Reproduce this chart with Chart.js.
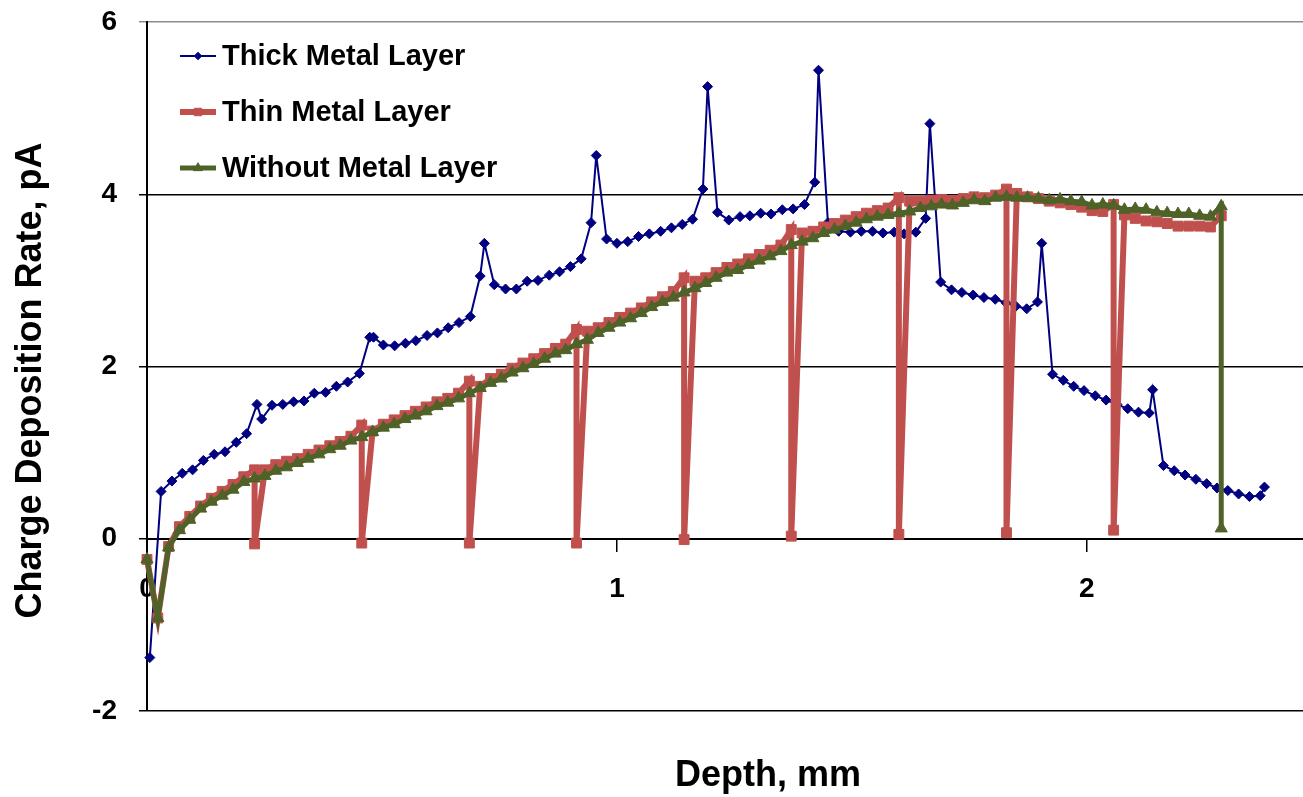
<!DOCTYPE html>
<html>
<head>
<meta charset="utf-8">
<title>Charge Deposition Rate vs Depth</title>
<script src="https://cdn.jsdelivr.net/npm/chart.js@4.4.1/dist/chart.umd.min.js"></script>
<style>
  html, body { margin: 0; padding: 0; background: #fff; }
  #wrap { width: 1303px; height: 797px; }
</style>
</head>
<body>
<div id="wrap"><canvas id="chart"></canvas></div>
<script>
// Thick metal layer: own depth points (extra point at every peak)
const thickDepth = [0.006,0.030,0.053,0.075,0.097,0.120,0.143,0.166,0.190,0.212,0.234,0.244,0.266,0.289,0.312,0.334,0.356,0.380,0.403,0.427,
  0.452,0.474,0.482,0.503,0.527,0.550,0.572,0.596,0.618,0.641,0.664,0.688,0.709,0.718,0.739,0.763,0.786,0.809,0.832,0.856,
  0.878,0.901,0.924,0.945,0.956,0.978,1.000,1.023,1.046,1.069,1.093,1.116,1.139,1.161,1.183,1.193,1.214,1.238,1.262,1.283,
  1.306,1.328,1.352,1.375,1.399,1.421,1.429,1.449,1.472,1.497,1.520,1.544,1.566,1.590,1.611,1.636,1.657,1.666,1.689,1.712,
  1.734,1.758,1.781,1.805,1.828,1.849,1.872,1.895,1.904,1.927,1.950,1.972,1.994,2.018,2.041,2.064,2.087,2.110,2.133,2.140,
  2.163,2.186,2.209,2.232,2.255,2.277,2.300,2.323,2.346,2.369,2.378];
const thickRate = [-1.38,0.55,0.67,0.76,0.80,0.91,0.98,1.01,1.12,1.22,1.56,1.39,1.55,1.56,1.59,1.60,1.69,1.70,1.77,1.82,
  1.92,2.34,2.34,2.25,2.24,2.27,2.30,2.36,2.39,2.45,2.51,2.58,3.05,3.43,2.95,2.90,2.90,2.99,3.00,3.06,
  3.10,3.16,3.25,3.67,4.45,3.48,3.43,3.45,3.51,3.54,3.57,3.61,3.65,3.71,4.06,5.25,3.79,3.70,3.74,3.75,
  3.78,3.77,3.82,3.83,3.88,4.14,5.44,3.67,3.57,3.56,3.57,3.57,3.55,3.56,3.54,3.56,3.72,4.82,2.98,2.89,
  2.86,2.83,2.80,2.78,2.74,2.70,2.67,2.75,3.43,1.91,1.84,1.77,1.72,1.66,1.61,1.56,1.51,1.47,1.46,1.73,
  0.85,0.79,0.74,0.69,0.64,0.59,0.56,0.52,0.49,0.50,0.60];

// Thin / without metal layer share one depth grid
const depthGrid = [0,0.023,0.046,0.069,0.091,0.114,0.137,0.160,0.183,0.206,
  0.229,0.251,0.274,0.297,0.320,0.343,0.366,0.389,0.411,0.434,
  0.457,0.480,0.503,0.526,0.549,0.571,0.594,0.617,0.640,0.663,
  0.686,0.709,0.731,0.754,0.777,0.800,0.823,0.846,0.869,0.891,
  0.914,0.937,0.960,0.983,1.006,1.029,1.052,1.074,1.097,1.120,
  1.143,1.166,1.189,1.211,1.234,1.257,1.280,1.303,1.326,1.349,
  1.371,1.394,1.417,1.440,1.463,1.486,1.509,1.531,1.554,1.577,
  1.600,1.623,1.646,1.669,1.691,1.714,1.737,1.760,1.783,1.806,
  1.829,1.851,1.874,1.897,1.920,1.943,1.966,1.989,2.011,2.034,
  2.057,2.080,2.103,2.126,2.149,2.171,2.194,2.217,2.240,2.263,
  2.286];
const thinRate = [-0.24,-0.92,-0.09,0.14,0.26,0.38,0.47,0.55,0.63,0.72,
  0.80,0.80,0.86,0.90,0.93,0.98,1.03,1.08,1.13,1.19,
  1.32,1.25,1.33,1.38,1.43,1.48,1.53,1.59,1.63,1.69,
  1.83,1.77,1.86,1.91,1.98,2.04,2.09,2.15,2.21,2.26,
  2.43,2.41,2.45,2.51,2.57,2.62,2.68,2.75,2.81,2.87,
  3.03,2.99,3.03,3.09,3.15,3.19,3.25,3.30,3.35,3.41,
  3.59,3.55,3.57,3.62,3.66,3.70,3.74,3.78,3.81,3.84,
  3.96,3.92,3.92,3.93,3.94,3.93,3.95,3.97,3.96,3.99,
  4.06,4.01,3.97,3.95,3.92,3.90,3.88,3.85,3.81,3.80,
  3.88,3.76,3.72,3.69,3.68,3.66,3.63,3.63,3.63,3.62,
  3.75];
// drops to ~0 that sit at the same depth as the point before them
const thinDropDepth = [0.229,0.457,0.686,0.914,1.143,1.371,1.600,1.829,2.057];
const thinDropRate = [-0.06,-0.05,-0.05,-0.05,-0.01,0.03,0.05,0.07,0.10];

const noneRate = [-0.24,-0.92,-0.10,0.10,0.22,0.35,0.43,0.50,0.57,0.66,
  0.70,0.73,0.79,0.83,0.88,0.93,0.98,1.04,1.08,1.14,
  1.18,1.24,1.29,1.33,1.39,1.43,1.48,1.54,1.58,1.63,
  1.69,1.75,1.81,1.86,1.93,1.98,2.03,2.09,2.15,2.19,
  2.26,2.31,2.39,2.45,2.51,2.56,2.62,2.69,2.75,2.80,
  2.86,2.91,2.97,3.03,3.09,3.12,3.18,3.23,3.28,3.34,
  3.41,3.45,3.49,3.55,3.59,3.63,3.67,3.71,3.74,3.76,
  3.78,3.80,3.84,3.86,3.88,3.87,3.90,3.93,3.92,3.96,
  3.97,3.96,3.96,3.95,3.93,3.94,3.92,3.91,3.87,3.88,
  3.87,3.82,3.83,3.82,3.79,3.78,3.77,3.77,3.75,3.74,
  3.86];
const noneDropDepth = [2.286];
const noneDropRate = [0.12];

const yTicks = [-2, 0, 2, 4, 6];
const xTicks = [0, 1, 2];

const FONT = "'Liberation Sans', Arial, sans-serif";

function buildSeries(depths, rates, dropDepths, dropRates) {
    const pts = [];
    depths.forEach((d, i) => {
        pts.push({ x: d, y: rates[i] });
        const j = dropDepths.indexOf(d);
        if (j >= 0) pts.push({ x: d, y: dropRates[j] });
    });
    return pts;
}

// legend sits inside the plot, under the data lines
const insideLegend = {
    id: 'insideLegend',
    beforeDatasetsDraw(chart) {
        const ctx = chart.ctx;
        const ca = chart.chartArea;
        ctx.save();
        chart.data.datasets.forEach((ds, i) => {
            const y = ca.top + 34 + i * 56;
            const x0 = ca.left + 33;
            ctx.strokeStyle = ds.borderColor;
            ctx.lineWidth = ds.borderWidth;
            ctx.beginPath();
            ctx.moveTo(x0, y);
            ctx.lineTo(x0 + 36, y);
            ctx.stroke();
            ctx.fillStyle = ds.pointBackgroundColor;
            ctx.strokeStyle = ds.pointBorderColor;
            ctx.lineWidth = 1;
            Chart.helpers.drawPoint(ctx, { pointStyle: ds.pointStyle, radius: ds.pointRadius * 0.75, borderWidth: 1 }, x0 + 18, y);
            ctx.fillStyle = '#000';
            ctx.font = 'bold 29px ' + FONT;
            ctx.textAlign = 'left';
            ctx.textBaseline = 'middle';
            ctx.fillText(ds.label, x0 + 42, y + 1);
        });
        ctx.restore();
    }
};

// axis titles placed like the original
const axisTitles = {
    id: 'axisTitles',
    afterDraw(chart) {
        const ctx = chart.ctx;
        const ca = chart.chartArea;
        ctx.save();
        ctx.fillStyle = '#000';
        ctx.font = 'bold 36px ' + FONT;
        ctx.textAlign = 'center';
        ctx.textBaseline = 'middle';
        ctx.fillText('Depth, mm', ca.left + 621, ca.bottom + 65);
        ctx.translate(ca.left - 116, (ca.top + ca.bottom) / 2 + 14);
        ctx.rotate(-Math.PI / 2);
        ctx.fillText('Charge Deposition Rate, pA', 0, 0);
        ctx.restore();
    }
};

new Chart(document.getElementById('chart'), {
    type: 'line',
    data: {
        datasets: [{
            label: 'Thick Metal Layer',
            data: buildSeries(thickDepth, thickRate, [], []),
            borderColor: '#000080',
            backgroundColor: '#000080',
            borderWidth: 2,
            pointStyle: 'rectRot',
            pointRadius: 5,
            pointBackgroundColor: '#000080',
            pointBorderColor: '#000080',
            pointBorderWidth: 1,
            order: 3
        }, {
            label: 'Thin Metal Layer',
            data: buildSeries(depthGrid, thinRate, thinDropDepth, thinDropRate),
            borderColor: '#C0504D',
            backgroundColor: '#C0504D',
            borderWidth: 6,
            pointStyle: 'rect',
            pointRadius: 7,
            pointBackgroundColor: '#C0504D',
            pointBorderColor: '#C0504D',
            pointBorderWidth: 1,
            order: 2
        }, {
            label: 'Without Metal Layer',
            data: buildSeries(depthGrid, noneRate, noneDropDepth, noneDropRate),
            borderColor: '#4F6228',
            backgroundColor: '#4F6228',
            borderWidth: 5,
            pointStyle: 'triangle',
            pointRadius: 7,
            pointBackgroundColor: '#4F6228',
            pointBorderColor: '#4F6228',
            pointBorderWidth: 1,
            order: 1
        }]
    },
    options: {
        responsive: true,
        maintainAspectRatio: false,
        animation: false,
        clip: false,
        layout: { autoPadding: false, padding: { top: 22, bottom: 86, left: 0, right: 0 } },
        elements: { line: { tension: 0 } },
        plugins: {
            legend: { display: false },
            tooltip: { enabled: false }
        },
        scales: {
            x: {
                type: 'linear',
                position: { y: 0 },
                min: 0,
                max: 2.46,
                afterBuildTicks: (scale) => { scale.ticks = xTicks.map(v => ({ value: v })); },
                afterFit: (scale) => { scale.paddingLeft = 0; scale.paddingRight = 0; },
                grid: { drawOnChartArea: false, drawTicks: true, tickLength: 12, color: '#000', lineWidth: 1.5 },
                border: { display: true, color: '#000', width: 2 },
                ticks: {
                    padding: 22,
                    color: '#000',
                    font: { size: 28, weight: 'bold', family: FONT }
                }
            },
            y: {
                min: -2,
                max: 6,
                afterBuildTicks: (scale) => { scale.ticks = yTicks.map(v => ({ value: v })); },
                afterFit: (scale) => { scale.width = 147; scale.paddingTop = 0; scale.paddingBottom = 0; },
                grid: {
                    color: (c) => c.tick && c.tick.value === 6 ? '#8c8c8c' : '#000',
                    lineWidth: 1.5,
                    tickLength: 8
                },
                border: { display: true, color: '#000', width: 2 },
                ticks: {
                    padding: 22,
                    color: '#000',
                    font: { size: 28, weight: 'bold', family: FONT }
                }
            }
        }
    },
    plugins: [insideLegend, axisTitles]
});
</script>
</body>
</html>
